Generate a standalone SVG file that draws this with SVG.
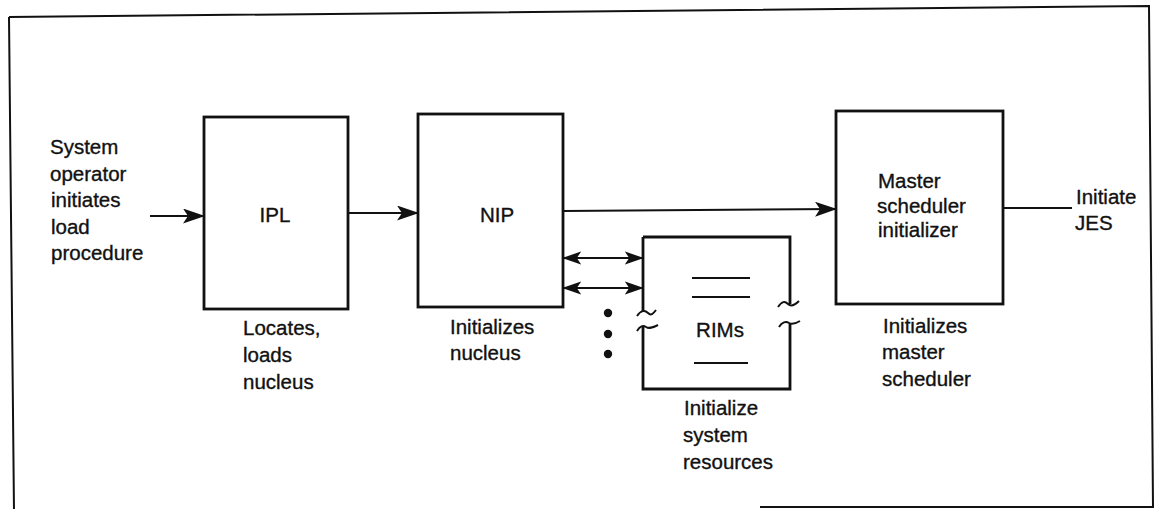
<svg xmlns="http://www.w3.org/2000/svg" width="1156" height="509" viewBox="0 0 1156 509">
<defs>
<style>
.box{fill:none;stroke:#111;stroke-width:2.8}
.ln{fill:none;stroke:#111;stroke-width:2}
.frame{fill:none;stroke:#111;stroke-width:2}
text{font-family:"Liberation Sans",Arial,sans-serif;font-size:20.5px;fill:#111;stroke:#111;stroke-width:0.35}
.c{text-anchor:middle}
</style>
<marker id="ah" viewBox="0 0 22 15" refX="21" refY="7.5" markerWidth="22" markerHeight="15" markerUnits="userSpaceOnUse" orient="auto-start-reverse">
<path d="M0,0 L22,7.5 L0,15 L5,7.5 z" fill="#111"/>
</marker>
<marker id="ah2" viewBox="0 0 22 15" refX="21" refY="7.5" markerWidth="19" markerHeight="14" markerUnits="userSpaceOnUse" orient="auto-start-reverse">
<path d="M0,0 L22,7.5 L0,15 L5,7.5 z" fill="#111"/>
</marker>
</defs>
<rect width="1156" height="509" fill="#fff"/>
<path class="frame" d="M9,17 L1149,6 L1153,507 L760,507 M9,17 L14,512"/>

<g id="input-label">
<text x="50" y="154">System</text>
<text x="50" y="181">operator</text>
<text x="51" y="207">initiates</text>
<text x="51" y="234">load</text>
<text x="51" y="260">procedure</text>
</g>

<g id="ipl">
<rect class="box" x="204" y="117" width="144" height="192"/>
<text class="c" x="275" y="222">IPL</text>
<text x="243" y="335">Locates,</text>
<text x="243" y="362">loads</text>
<text x="243" y="389">nucleus</text>
</g>

<g id="nip">
<rect class="box" x="418" y="114" width="145" height="193"/>
<text class="c" x="497" y="222">NIP</text>
<text x="450" y="334">Initializes</text>
<text x="450" y="360">nucleus</text>
</g>

<g id="rims">
<path class="box" d="M643,237 L790,237 L790,304 M790,324 L790,389 L643,389 L643,327 M643,237 L643,312"/>
<path class="ln" stroke-width="2.4" d="M637,316 C641,310 645,310 648,313 C651,316 653,314 656,310"/>
<path class="ln" stroke-width="2.4" d="M637,331 C640,326 643,325 646,327 C649,329 652,328 658,325"/>
<path class="ln" stroke-width="2.4" d="M778,307 C782,301 785,301 788,304 C791,307 795,305 799,301"/>
<path class="ln" stroke-width="2.4" d="M779,327 C782,322 786,321 789,323 C792,325 795,324 800,321"/>
<line class="ln" stroke-width="2.6" x1="692" y1="278" x2="750" y2="278"/>
<line class="ln" stroke-width="2.6" x1="692" y1="297" x2="750" y2="297"/>
<line class="ln" stroke-width="2.6" x1="694" y1="363" x2="748" y2="363"/>
<text class="c" x="720" y="337">RIMs</text>
<text x="684" y="415">Initialize</text>
<text x="683" y="442">system</text>
<text x="683" y="469">resources</text>
</g>

<g id="msi">
<rect class="box" x="836" y="111" width="167" height="193"/>
<text x="878" y="188">Master</text>
<text x="877" y="213">scheduler</text>
<text x="878" y="237">initializer</text>
<text x="883" y="333">Initializes</text>
<text x="882" y="359">master</text>
<text x="882" y="386">scheduler</text>
</g>

<g id="jes-label">
<text x="1076" y="204">Initiate</text>
<text x="1075" y="230">JES</text>
</g>

<g id="dots">
<circle cx="608" cy="313" r="4.2" fill="#111"/>
<circle cx="608" cy="334" r="4.2" fill="#111"/>
<circle cx="608" cy="354" r="4.2" fill="#111"/>
</g>

<g id="connectors">
<line class="ln" x1="150" y1="216" x2="204" y2="216" stroke-width="2.6" marker-end="url(#ah)"/>
<line class="ln" x1="348" y1="213" x2="418" y2="213" marker-end="url(#ah)"/>
<line class="ln" x1="563" y1="211" x2="836" y2="209" marker-end="url(#ah)"/>
<line class="ln" x1="563" y1="258" x2="643" y2="258" stroke-width="2.4" marker-start="url(#ah2)" marker-end="url(#ah2)"/>
<line class="ln" x1="563" y1="288" x2="643" y2="288" stroke-width="2.4" marker-start="url(#ah2)" marker-end="url(#ah2)"/>
<line class="ln" x1="1003" y1="208" x2="1072" y2="208"/>
</g>
</svg>
